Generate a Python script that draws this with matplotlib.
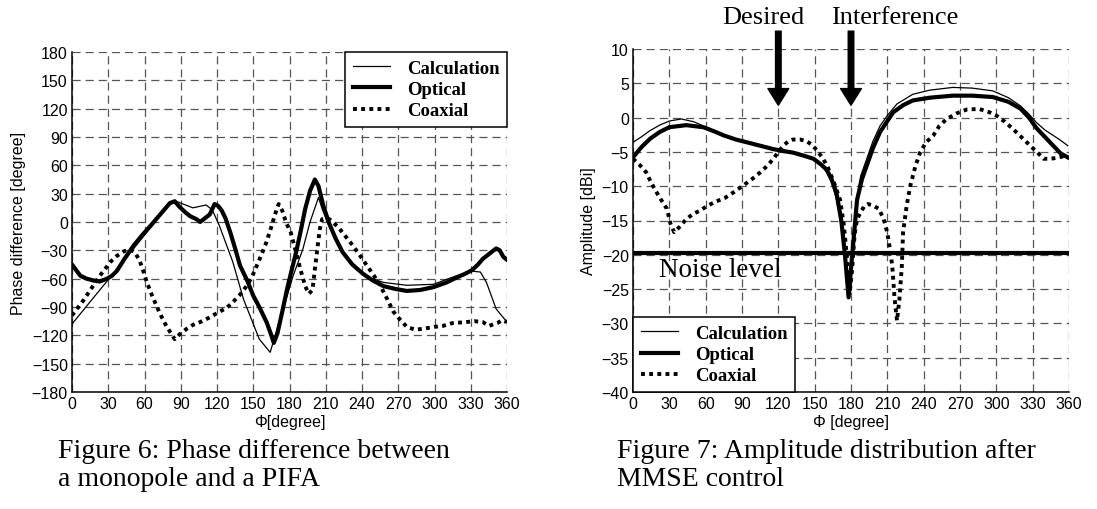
import matplotlib
matplotlib.use("Agg")
import matplotlib.pyplot as plt

# ---------------- data: Figure 6 (phase difference) ----------------
calc_phase_phi = [0, 23, 48, 65, 81, 86, 100, 111, 116, 122, 133, 142, 155, 164,
                  183, 191, 197, 204, 207, 212, 219, 228, 238, 248, 258, 277, 299,
                  318, 331, 338, 343, 351, 360]
calc_phase_val = [-108, -72, -33, -6, 20, 22, 15, 18, 13, -4, -42, -82, -124, -138,
                  -57, -29, 0, 26, 14, -2, -21, -38, -53, -60, -64, -67, -66,
                  -57, -52, -53, -64, -92, -106]

opt_phase_phi = [0, 4, 7, 12, 18, 23, 29, 33, 37, 44, 51, 58, 65, 73, 81, 85, 89, 94,
                 98, 103, 106, 110, 114, 118, 121, 124, 127, 131, 135, 139, 145, 150,
                 155, 161, 165, 167, 170, 174, 178, 182, 186, 190, 193, 197, 201, 204,
                 208, 213, 218, 224, 232, 241, 249, 258, 268, 277, 288, 299, 310, 318,
                 325, 331, 336, 340, 346, 351, 354, 357, 360]
opt_phase_val = [-45, -52, -57, -60, -62, -63, -60, -57, -52, -38, -25, -14, -4, 8, 20,
                 22, 16, 10, 6, 3, 0, 4, 8, 19, 17, 12, 4, -11, -28, -46, -62, -78,
                 -90, -106, -120, -128, -118, -95, -71, -50, -29, -5, 14, 33, 45, 38,
                 17, -2, -17, -32, -45, -55, -62, -68, -71, -73, -72, -69, -64, -59,
                 -55, -51, -45, -39, -33, -28, -30, -37, -40]

coax_phase_phi = [0, 10, 23, 32, 37, 43, 48, 52, 56, 59, 62, 66, 70, 74, 78, 82, 85,
                  89, 95, 100, 106, 114, 122, 128, 133, 139, 145, 149, 153, 157, 161,
                  165, 168, 171, 174, 177, 181, 185, 189, 193, 196, 199, 201, 203, 205,
                  207, 213, 220, 230, 237, 244, 250, 255, 261, 266, 272, 277, 284, 291,
                  300, 307, 315, 326, 333, 340, 345, 352, 356, 360]
coax_phase_val = [-99, -82, -57, -42, -36, -31, -29, -32, -41, -52, -64, -77, -89,
                  -100, -110, -118, -124, -119, -113, -109, -106, -101, -95, -91, -85,
                  -77, -67, -58, -46, -34, -21, -5, 8, 19, 12, 0, -11, -30, -50, -68,
                  -76, -72, -50, -29, -8, 3, 3, -5, -21, -33, -46, -57, -67, -82, -95,
                  -104, -111, -114, -113, -111, -110, -107, -106, -105, -106, -110,
                  -107, -104, -106]

# ---------------- data: Figure 7 (amplitude) ----------------
calc_amp_phi = [0, 7, 14, 22, 30, 40, 50, 58, 67, 75, 85, 94, 105, 116, 125, 132, 140,
                149, 155, 160, 164, 168, 172, 175, 178, 181, 184, 188, 193, 198, 204,
                210, 218, 231, 245, 264, 280, 297, 310, 320, 327, 333, 340, 347, 353,
                359]
calc_amp_val = [-3.6, -2.8, -1.9, -1.1, -0.5, -0.2, -0.6, -1.2, -1.9, -2.6, -3.2, -3.6,
                -4.1, -4.6, -4.9, -5.1, -5.5, -6.0, -6.8, -8.0, -9.5, -11.9, -16, -21,
                -26, -20, -12.5, -8.5, -6.0, -3.5, -1.2, 0.3, 2.0, 3.4, 4.0, 4.4, 4.3,
                3.9, 2.9, 1.7, 0.5, -0.7, -1.8, -2.6, -3.3, -4.1]

opt_amp_phi = [0, 7, 14, 22, 30, 44, 58, 67, 75, 85, 94, 105, 116, 125, 132, 140, 149,
               155, 160, 164, 168, 172, 175, 178, 181, 185, 189, 193, 198, 204, 210,
               215, 223, 231, 245, 264, 280, 297, 310, 320, 327, 333, 340, 347, 353,
               359]
opt_amp_val = [-5.8, -4.3, -3.1, -2.1, -1.4, -1.1, -1.4, -2.0, -2.6, -3.2, -3.6, -4.1,
               -4.6, -4.9, -5.1, -5.5, -6.0, -6.8, -7.6, -9.0, -11.0, -15, -20, -26.2,
               -20, -12, -9, -7, -4.5, -2.1, -0.5, 0.8, 1.8, 2.5, 2.9, 3.2, 3.2, 3.0,
               2.3, 1.3, 0.0, -1.5, -2.8, -4.1, -5.2, -5.8]

coax_amp_phi = [0, 5, 11, 15, 19.5, 24, 28, 31, 34, 38, 44, 50, 55, 62, 69, 76, 83, 91,
                98, 105, 111, 116, 120, 124, 128, 132, 138, 143, 148, 152, 157, 161,
                166, 171, 174, 177, 179, 181, 183, 185, 188, 191, 194, 198, 203, 207,
                210, 212, 214, 216, 218, 220, 222, 223, 226, 229, 233, 237, 242, 248,
                253, 259, 267, 276, 286, 294, 300, 307, 314, 321, 328, 334, 339, 345,
                352, 358]
coax_amp_val = [-6, -6.8, -8, -9.5, -10.9, -12.2, -13.3, -15.5, -16.7, -16, -14.8, -14,
                -13.6, -12.8, -12.2, -11.7, -10.9, -9.9, -9, -8, -7, -6, -5, -4.1,
                -3.5, -3.2, -3.2, -3.4, -4, -4.8, -6, -7.3, -9.5, -12, -15.5, -21,
                -25.5, -22, -17, -14.8, -13.8, -12.9, -12.6, -12.8, -13.3, -14.8,
                -16.8, -19, -21.5, -26.4, -29.6, -26.4, -21.6, -16.7, -12.8, -9.9,
                -7.2, -5.1, -3.6, -2.6, -1.2, -0.2, 0.6, 1.2, 1.25, 0.8, 0.3, -0.6,
                -1.7, -2.9, -4.1, -5.1, -6.0, -6.0, -5.8, -5.5]

noise_phi = [0, 358]
noise_val = [-19.7, -19.7]

series_names = ["Calculation", "Optical", "Coaxial"]
phase_xticks = list(range(0, 361, 30))
phase_yticks = list(range(-180, 181, 30))
amp_yticks = list(range(-40, 11, 5))

arrow_targets = [("Desired", 120, 108), ("Interference", 180, 216)]

# ---------------- styling ----------------
SANS = ["Liberation Sans", "DejaVu Sans"]
SERIF = ["Liberation Serif", "DejaVu Serif"]
plt.rcParams["font.family"] = SANS
plt.rcParams["axes.unicode_minus"] = True

styles = [
    dict(color="black", lw=0.9, ls="-"),
    dict(color="black", lw=3.0, ls="-"),
    dict(color="black", lw=2.8, ls=(0, (1.0, 1.1)), dash_capstyle="butt"),
]
grid_kw = dict(color="#555555", lw=0.9, ls=(0, (6.5, 4)))

fig = plt.figure(figsize=(10.97, 5.10), dpi=100)
ax1 = fig.add_axes([72 / 1097, 117 / 510, 435 / 1097, 340 / 510])
ax2 = fig.add_axes([633 / 1097, 117 / 510, 436 / 1097, 343 / 510])


def style_axes(ax):
    ax.grid(True, **grid_kw)
    ax.set_axisbelow(True)
    for s in ("top", "right"):
        ax.spines[s].set_visible(False)
    for s in ("left", "bottom"):
        ax.spines[s].set_linewidth(1.1)
    ax.tick_params(direction="in", length=0, labelsize=11.5, pad=3)


# Figure 6
ax1.plot(calc_phase_phi, calc_phase_val, label=series_names[0], **styles[0])
ax1.plot(opt_phase_phi, opt_phase_val, label=series_names[1], **styles[1])
ax1.plot(coax_phase_phi, coax_phase_val, label=series_names[2], **styles[2])
ax1.set_xlim(0, 360)
ax1.set_ylim(-180, 180)
ax1.set_xticks(phase_xticks)
ax1.set_yticks(phase_yticks)
style_axes(ax1)
ax1.set_xlabel("Φ[degree]", fontsize=11.5, labelpad=2)
ax1.set_ylabel("Phase difference [degree]", fontsize=11.5, labelpad=4)

leg_kw = dict(prop=dict(family=SERIF, weight="bold", size=13.5), fancybox=False,
              framealpha=1, edgecolor="black", handlelength=2.0, handletextpad=0.9,
              labelspacing=0.22, borderpad=0.4, borderaxespad=0)
leg1 = ax1.legend(loc="upper right", **leg_kw)
leg1.get_frame().set_linewidth(1.1)

# Figure 7
ax2.plot(calc_amp_phi, calc_amp_val, label=series_names[0], **styles[0])
ax2.plot(opt_amp_phi, opt_amp_val, label=series_names[1], **styles[1])
ax2.plot(coax_amp_phi, coax_amp_val, label=series_names[2], **styles[2])
ax2.plot(noise_phi, noise_val, color="black", lw=3.0)
ax2.set_xlim(0, 360)
ax2.set_ylim(-40, 10)
ax2.set_xticks(phase_xticks)
ax2.set_yticks(amp_yticks)
style_axes(ax2)
ax2.set_xlabel("Φ [degree]", fontsize=11.5, labelpad=2)
ax2.set_ylabel("Amplitude [dBi]", fontsize=11.5, labelpad=4)
leg2 = ax2.legend(loc="lower left", **leg_kw)
leg2.get_frame().set_linewidth(1.1)

ax2.text(72, -22.2, "Noise level", family=SERIF, fontsize=19.5, ha="center", va="center")

for name, xpos, txt_x in arrow_targets:
    ax2.annotate("", xy=(xpos, 1.8), xytext=(xpos, 12.6), annotation_clip=False,
                 arrowprops=dict(facecolor="black", edgecolor="black", width=4.0,
                                 headwidth=15, headlength=12, shrink=0))
    ax2.text(txt_x, 14.6, name, family=SERIF, fontsize=19, ha="center", va="center",
             clip_on=False)

# Captions
fig.text(58 / 1097, 1 - 439 / 510, "Figure 6: Phase difference between\na monopole and a PIFA",
         family=SERIF, fontsize=20, ha="left", va="top", linespacing=1.15)
fig.text(617 / 1097, 1 - 439 / 510, "Figure 7: Amplitude distribution after\nMMSE control",
         family=SERIF, fontsize=20, ha="left", va="top", linespacing=1.15)

fig.savefig("out.png", dpi=100)
